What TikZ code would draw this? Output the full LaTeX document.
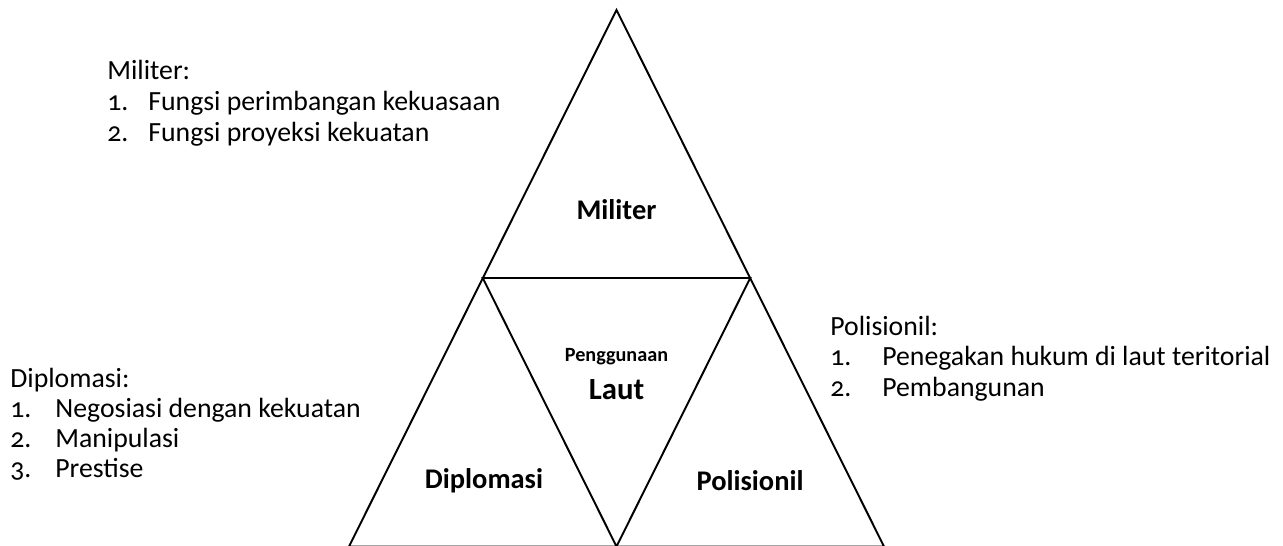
\documentclass[tikz,border=0pt]{standalone}
\usepackage{fontspec}
\setmainfont{Carlito}[Numbers=OldStyle]
\usetikzlibrary{positioning}

\tikzset{
  side/.style={line width=1.1pt, line join=miter},
  note/.style={anchor=base west, inner sep=0pt, font=\fontsize{15.8}{19}\selectfont},
  part/.style={inner sep=0pt, font=\fontsize{16.2}{19}\selectfont\bfseries},
}

\begin{document}
\begin{tikzpicture}
\useasboundingbox (0,0) rectangle (25.66,10.92);

% big triangle and the inner one
\coordinate (top) at (12.33,10.72);
\coordinate (bl) at (6.98,-0.01);
\coordinate (br) at (17.68,-0.01);
\coordinate (bm) at (12.33,-0.01);
\coordinate (ml) at (9.655,5.36);
\coordinate (mr) at (15.005,5.36);

\draw[side] (bl) -- (top) -- (br) -- cycle;
\draw[side] (ml) -- (mr) -- (bm) -- cycle;

\node[part] (mil) at (12.33,6.72) {Militer};
\node[part] (dip) at (9.68,1.30) {Diplomasi};
\node[part] (pol) at (15.00,1.30) {Polisionil};
\node[inner sep=0pt, font=\fontsize{11.5}{13}\selectfont\bfseries] (peng) at (12.33,3.78) {Penggunaan};
\node[inner sep=0pt, font=\fontsize{17.5}{21}\selectfont\bfseries] (laut) at (12.33,3.12) {Laut};

% Militer list
\node[note] (milh) at (2.14,9.32) {Militer:};
\node[note] (mil1n) at (2.14,8.70) {1.};
\node[note] (mil1) at (2.96,8.70) {Fungsi perimbangan kekuasaan};
\node[note] (mil2n) at (2.14,8.08) {2.};
\node[note] (mil2) at (2.96,8.08) {Fungsi proyeksi kekuatan};

% Diplomasi list
\node[note] (diph) at (0.20,3.16) {Diplomasi:};
\node[note] (dip1n) at (0.20,2.56) {1.};
\node[note] (dip1) at (1.10,2.56) {Negosiasi dengan kekuatan};
\node[note] (dip2n) at (0.20,1.96) {2.};
\node[note] (dip2) at (1.10,1.96) {Manipulasi};
\node[note] (dip3n) at (0.20,1.36) {3.};
\node[note] (dip3) at (1.10,1.36) {Prestise};

% Polisionil list
\node[note] (polh) at (16.60,4.20) {Polisionil:};
\node[note] (pol1n) at (16.60,3.60) {1.};
\node[note] (pol1) at (17.64,3.60) {Penegakan hukum di laut teritorial};
\node[note] (pol2n) at (16.60,2.98) {2.};
\node[note] (pol2) at (17.64,2.98) {Pembangunan};
\end{tikzpicture}
\end{document}
